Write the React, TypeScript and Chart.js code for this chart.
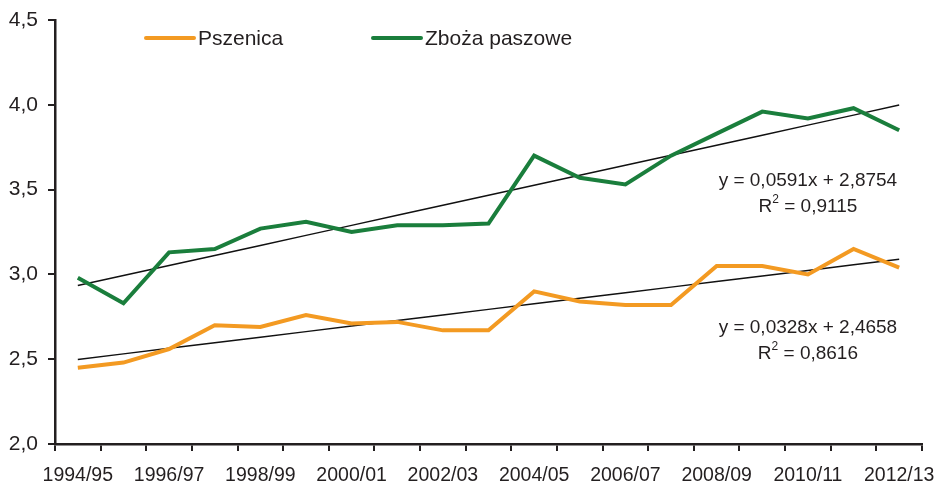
import React, { useEffect, useRef } from "react";
import { Chart, registerables } from "chart.js";

Chart.register(...registerables);

const seasons = [
  "1994/95", "1995/96", "1996/97", "1997/98", "1998/99", "1999/00", "2000/01",
  "2001/02", "2002/03", "2003/04", "2004/05", "2005/06", "2006/07", "2007/08",
  "2008/09", "2009/10", "2010/11", "2011/12", "2012/13",
];

const pszenica = [
  2.45, 2.48, 2.56, 2.7, 2.69, 2.76, 2.71, 2.72, 2.67, 2.67,
  2.9, 2.84, 2.82, 2.82, 3.05, 3.05, 3.0, 3.15, 3.04,
];

const zbozaPaszowe = [
  2.98, 2.83, 3.13, 3.15, 3.27, 3.31, 3.25, 3.29, 3.29, 3.3,
  3.7, 3.57, 3.53, 3.7, 3.83, 3.96, 3.92, 3.98, 3.85,
];

// Trend line equations as printed on the chart
const trendPszenica = { slope: 0.0328, intercept: 2.4658, r2: "0,8616", eq: "y = 0,0328x + 2,4658" };
const trendZboza = { slope: 0.0591, intercept: 2.8754, r2: "0,9115", eq: "y = 0,0591x + 2,8754" };

const yTicks = [2.0, 2.5, 3.0, 3.5, 4.0, 4.5];

const ORANGE = "#F39A22";
const GREEN = "#1A7E3C";
const DARK = "#231F20";
const FONT = "'Liberation Sans', Arial, sans-serif";

const trendValues = (t: { slope: number; intercept: number }) =>
  seasons.map((_, i) => t.intercept + t.slope * (i + 1));

export default function App() {
  const ref = useRef<HTMLCanvasElement>(null);

  useEffect(() => {
    document.body.style.margin = "0";
    const canvas = ref.current!;
    const overlay = {
      id: "overlay",
      afterDraw(chart: any) {
        const ctx = chart.ctx as CanvasRenderingContext2D;
        const xs = chart.scales.x;
        const ys = chart.scales.y;
        ctx.save();
        // legend
        const legendY = 38;
        const items = [
          { label: "Pszenica", color: ORANGE, x: 146 },
          { label: "Zboża paszowe", color: GREEN, x: 373 },
        ];
        ctx.font = `21px ${FONT}`;
        ctx.textBaseline = "middle";
        ctx.textAlign = "left";
        for (const it of items) {
          ctx.strokeStyle = it.color;
          ctx.lineWidth = 4;
          ctx.lineCap = "round";
          ctx.beginPath();
          ctx.moveTo(it.x, legendY);
          ctx.lineTo(it.x + 48, legendY);
          ctx.stroke();
          ctx.fillStyle = DARK;
          ctx.fillText(it.label, it.x + 52, legendY + 1);
        }
        // equations
        ctx.fillStyle = DARK;
        const cx = xs.getPixelForValue(16);
        const eqs = [
          { t: trendZboza, y: ys.getPixelForValue(3.555) },
          { t: trendPszenica, y: ys.getPixelForValue(2.688) },
        ];
        for (const e of eqs) {
          ctx.font = `19px ${FONT}`;
          ctx.textAlign = "center";
          ctx.fillText(e.t.eq, cx, e.y);
          const rest = " = " + e.t.r2;
          const wR = ctx.measureText("R").width;
          const wRest = ctx.measureText(rest).width;
          ctx.font = `12px ${FONT}`;
          const w2 = ctx.measureText("2").width;
          const total = wR + w2 + wRest;
          const x0 = cx - total / 2;
          const y2 = e.y + 26;
          ctx.textAlign = "left";
          ctx.font = `19px ${FONT}`;
          ctx.fillText("R", x0, y2);
          ctx.font = `12px ${FONT}`;
          ctx.fillText("2", x0 + wR, y2 - 7);
          ctx.font = `19px ${FONT}`;
          ctx.fillText(rest, x0 + wR + w2, y2);
        }
        ctx.restore();
      },
    };

    const chart = new Chart(canvas, {
      type: "line",
      data: {
        labels: seasons,
        datasets: [
          {
            label: "Pszenica",
            data: pszenica,
            borderColor: ORANGE,
            borderWidth: 4,
            pointRadius: 0,
            tension: 0,
          },
          {
            label: "Zboża paszowe",
            data: zbozaPaszowe,
            borderColor: GREEN,
            borderWidth: 4,
            pointRadius: 0,
            tension: 0,
          },
          {
            label: "trend Pszenica",
            data: trendValues(trendPszenica),
            borderColor: "#111111",
            borderWidth: 1.5,
            pointRadius: 0,
            tension: 0,
          },
          {
            label: "trend Zboża",
            data: trendValues(trendZboza),
            borderColor: "#111111",
            borderWidth: 1.5,
            pointRadius: 0,
            tension: 0,
          },
        ],
      },
      options: {
        responsive: false,
        animation: false,
        layout: { padding: { top: 20, right: 22, left: 0, bottom: 0 } },
        plugins: {
          legend: { display: false },
          tooltip: { enabled: false },
        },
        scales: {
          x: {
            offset: true,
            grid: {
              offset: true,
              drawOnChartArea: false,
              drawTicks: true,
              tickLength: 7,
              color: DARK,
              lineWidth: 2,
            },
            border: { color: DARK, width: 2.5 },
            ticks: {
              autoSkip: false,
              maxRotation: 0,
              minRotation: 0,
              color: DARK,
              padding: 13,
              font: { family: FONT, size: 19.5 },
              callback: (_v: any, i: number) => (i % 2 === 0 ? seasons[i] : ""),
            },
            afterFit: (s: any) => {
              s.height = 38;
              s.paddingLeft = 0;
              s.paddingRight = 0;
            },
          },
          y: {
            min: 2,
            max: 4.5,
            afterBuildTicks: (s: any) => {
              s.ticks = yTicks.map((v) => ({ value: v }));
            },
            grid: {
              drawOnChartArea: false,
              drawTicks: true,
              tickLength: 7,
              color: DARK,
              lineWidth: 2,
            },
            border: { color: DARK, width: 2.5 },
            ticks: {
              color: DARK,
              padding: 10,
              font: { family: FONT, size: 21 },
              callback: (v: any) => Number(v).toFixed(1).replace(".", ","),
            },
            afterFit: (s: any) => {
              s.width = 55;
              s.paddingTop = 0;
              s.paddingBottom = 0;
            },
          },
        },
      },
      plugins: [overlay],
    } as any);
    return () => chart.destroy();
  }, []);

  return (
    <div style={{ width: 944, height: 482 }}>
      <canvas ref={ref} width={944} height={482} style={{ display: "block" }} />
    </div>
  );
}
